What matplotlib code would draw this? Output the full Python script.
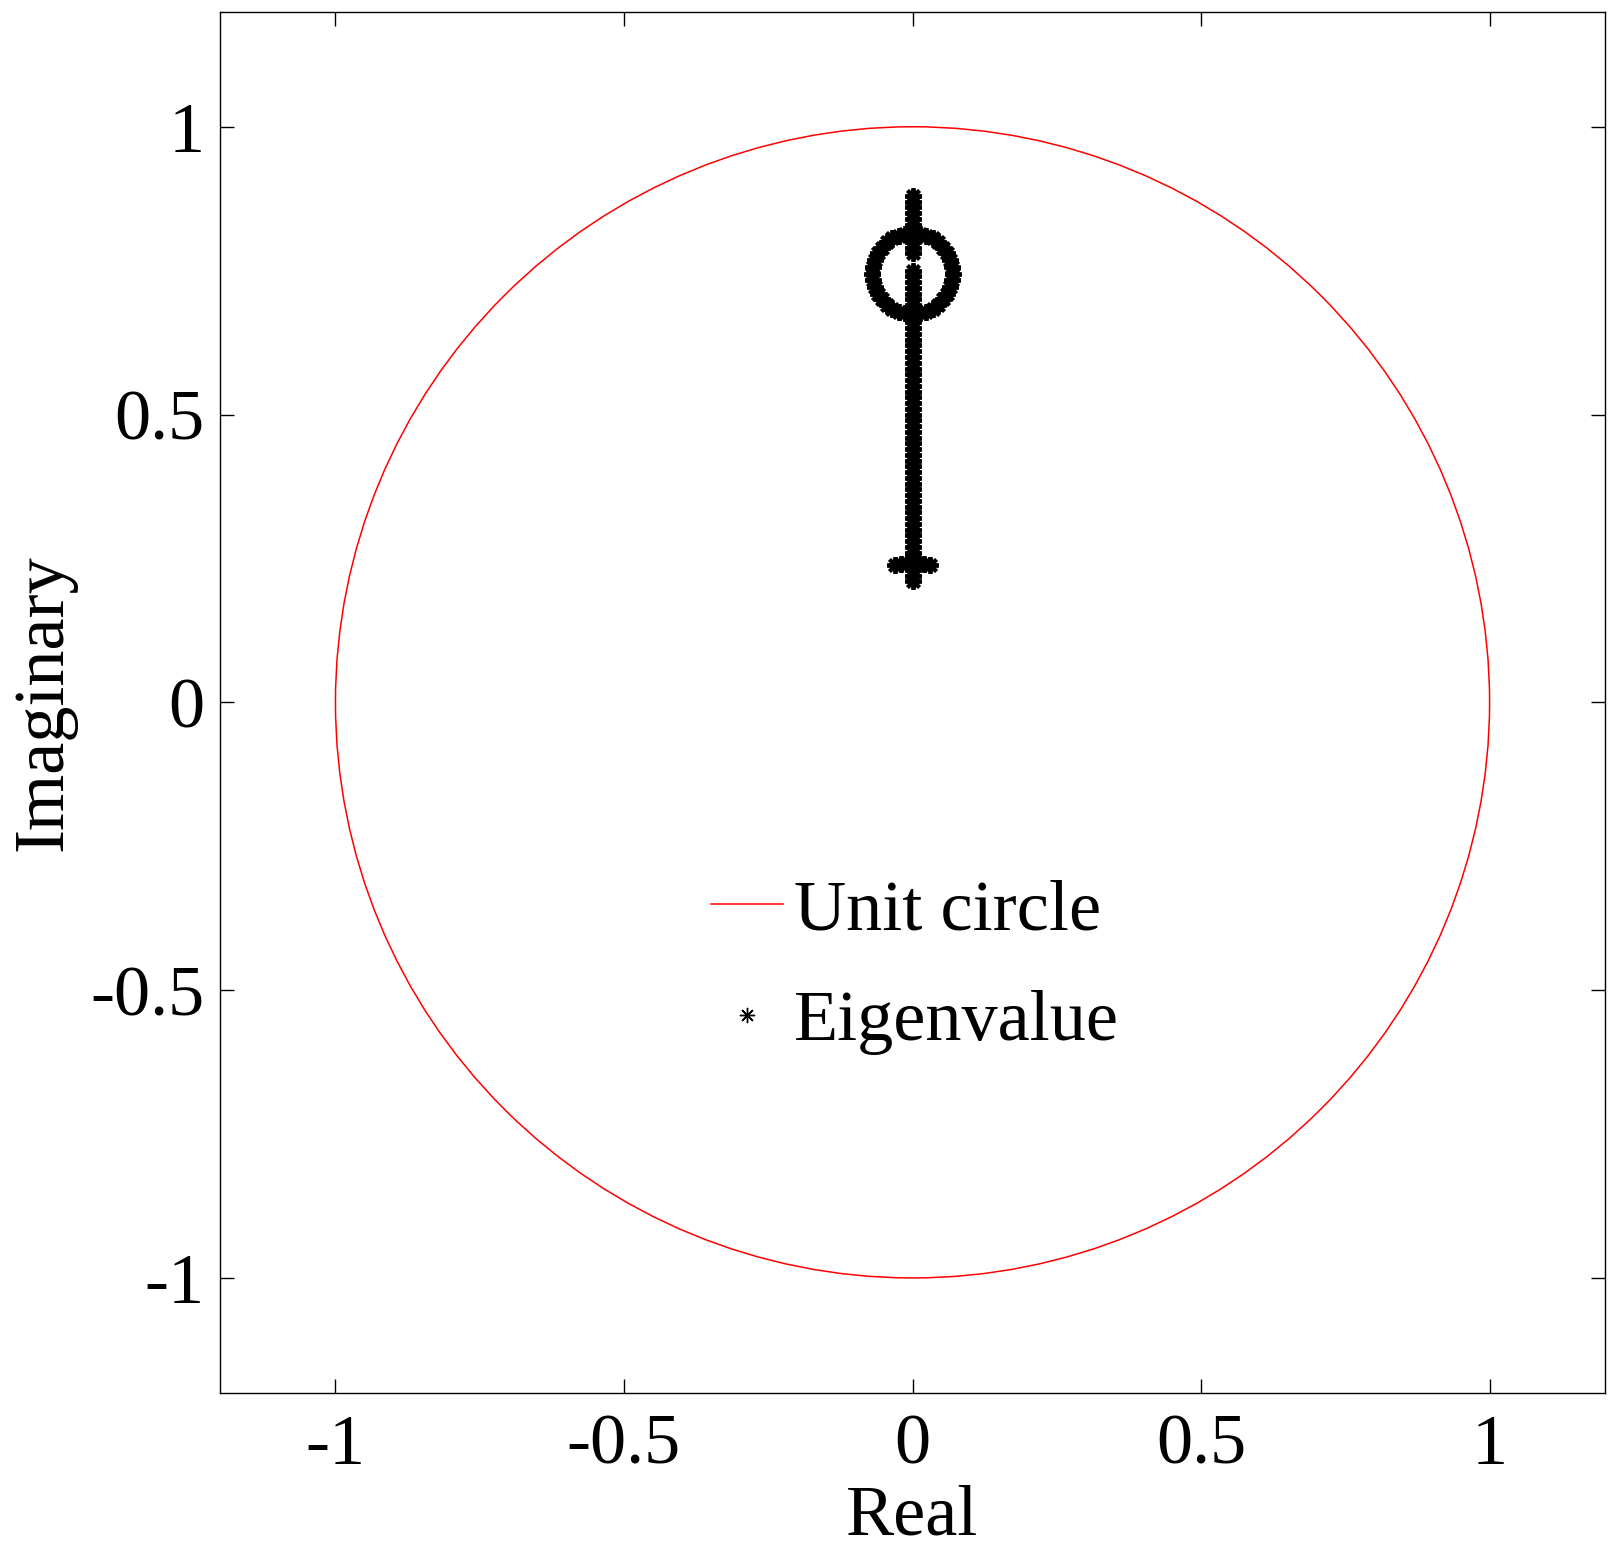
import matplotlib
matplotlib.use("Agg")
import matplotlib.pyplot as plt
from matplotlib.patches import Circle
from matplotlib.lines import Line2D

plt.rcParams['font.family'] = ['Liberation Serif', 'DejaVu Serif']
plt.rcParams['axes.unicode_minus'] = False

# eigenvalues (real, imag)
stem_imag = [0.21, 0.22, 0.23, 0.24, 0.25, 0.26, 0.27, 0.28, 0.29, 0.30,
             0.31, 0.32, 0.33, 0.34, 0.35, 0.36, 0.37, 0.38, 0.39, 0.40,
             0.41, 0.42, 0.43, 0.44, 0.45, 0.46, 0.47, 0.48, 0.49, 0.50,
             0.51, 0.52, 0.53, 0.54, 0.55, 0.56, 0.57, 0.58, 0.59, 0.60,
             0.61, 0.62, 0.63, 0.64, 0.65, 0.66, 0.67, 0.68, 0.69, 0.70,
             0.71, 0.72, 0.73, 0.74, 0.75,
             0.78, 0.79, 0.80, 0.81, 0.82, 0.83, 0.84, 0.85, 0.86, 0.87, 0.88]
stem_real = [0.0] * len(stem_imag)

foot_real = [-0.03, -0.02, -0.01, 0.01, 0.02, 0.03]
foot_imag = [0.238, 0.240, 0.242, 0.242, 0.240, 0.238]

ring_real = [0.0700, 0.0689, 0.0658, 0.0606, 0.0536, 0.0450, 0.0350, 0.0239, 0.0122,
             0.0, -0.0122, -0.0239, -0.0350, -0.0450, -0.0536, -0.0606, -0.0658, -0.0689,
             -0.0700, -0.0689, -0.0658, -0.0606, -0.0536, -0.0450, -0.0350, -0.0239, -0.0122,
             0.0, 0.0122, 0.0239, 0.0350, 0.0450, 0.0536, 0.0606, 0.0658, 0.0689]
ring_imag = [0.745, 0.757, 0.769, 0.780, 0.790, 0.799, 0.806, 0.811, 0.814,
             0.815, 0.814, 0.811, 0.806, 0.799, 0.790, 0.780, 0.769, 0.757,
             0.745, 0.733, 0.721, 0.710, 0.700, 0.691, 0.684, 0.679, 0.676,
             0.675, 0.676, 0.679, 0.684, 0.691, 0.700, 0.710, 0.721, 0.733]

ticks = [-1, -0.5, 0, 0.5, 1]
tick_labels = ['-1', '-0.5', '0', '0.5', '1']

fs = 52

fig = plt.figure(figsize=(16.24, 15.53), dpi=100)
ax = fig.add_axes([0.1355, 0.103, 0.8528, 0.8895])

ax.add_patch(Circle((0, 0), 1, fill=False, edgecolor='red', linewidth=1.1))

ast = (8, 2, 0)
re_all = stem_real + foot_real + ring_real
im_all = stem_imag + foot_imag + ring_imag
ax.plot(re_all, im_all, linestyle='none', marker=ast, markersize=12,
        markeredgewidth=2.8, color='black')

ax.set_xlim(-1.2, 1.2)
ax.set_ylim(-1.2, 1.2)
ax.set_xticks(ticks)
ax.set_xticklabels(tick_labels)
ax.set_yticks(ticks)
ax.set_yticklabels(tick_labels)
ax.tick_params(direction='in', length=10, width=1, top=True, right=True,
               labelsize=fs)
ax.tick_params(axis='x', pad=15)
ax.tick_params(axis='y', pad=11)
for s in ax.spines.values():
    s.set_linewidth(1)

ax.set_xlabel('Real', fontsize=fs)
ax.xaxis.set_label_coords(0.5, -0.066)
ax.set_ylabel('Imaginary', fontsize=fs)
ax.yaxis.set_label_coords(-0.104, 0.5)

handles = [Line2D([], [], color='red', linewidth=1.1),
           Line2D([], [], linestyle='none', marker=ast, markersize=11,
                  markeredgewidth=1, color='black')]
ax.legend(handles, ['Unit circle', 'Eigenvalue'], loc='upper left',
          bbox_to_anchor=(0.4378, 0.434), bbox_transform=fig.transFigure,
          frameon=False, fontsize=fs, handlelength=1.0, handletextpad=0.15,
          labelspacing=0.62, borderpad=0, borderaxespad=0)

fig.savefig('out.png', dpi=100)
